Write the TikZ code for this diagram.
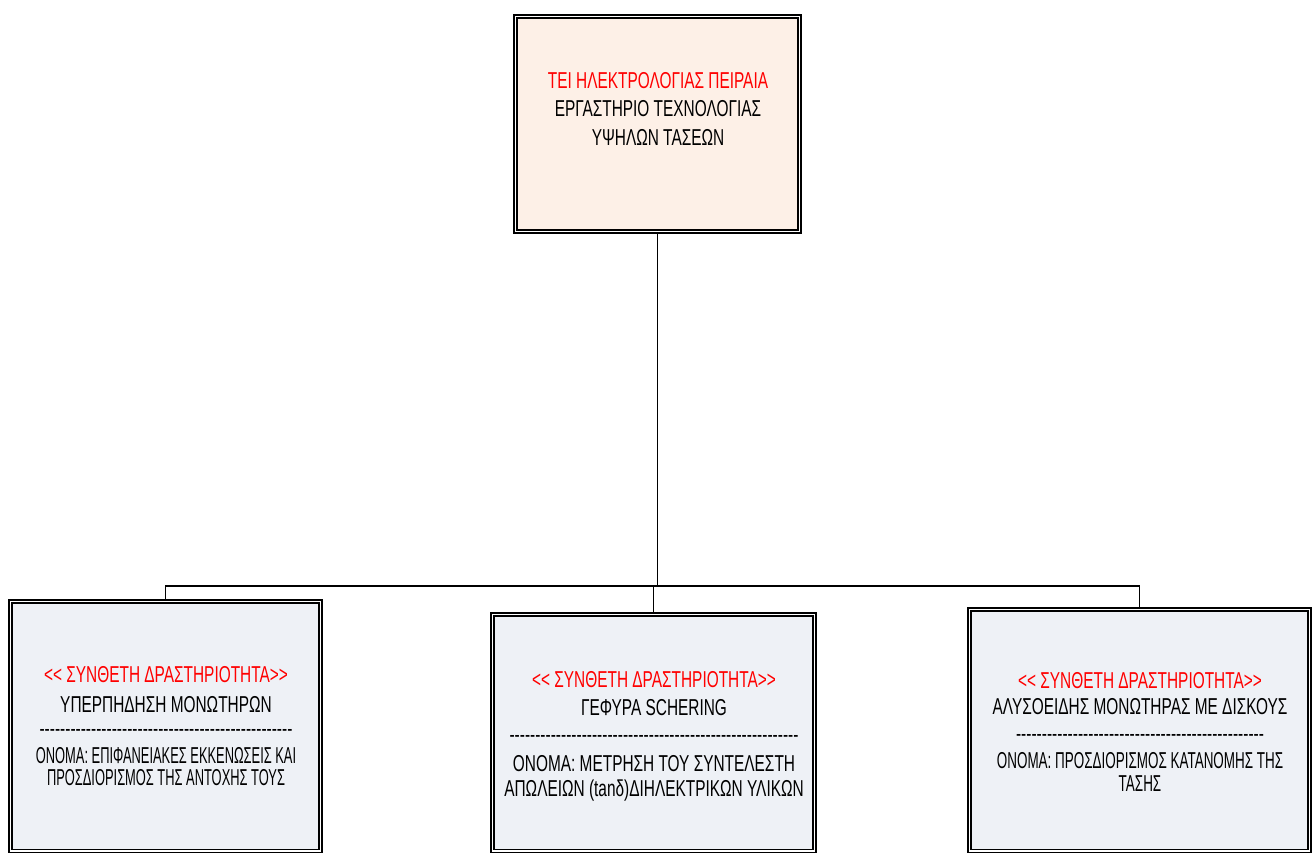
\documentclass[tikz,border=0pt]{standalone}
\usepackage{fontspec}
\newfontfamily\teifont{Liberation Sans}[FakeStretch=0.67]
\newfontfamily\teinarrow{Liberation Sans}[FakeStretch=0.56]
\newfontfamily\teisemi{Liberation Sans}[FakeStretch=0.585]
\usepackage{xcolor}
\usetikzlibrary{positioning}
\definecolor{teipeach}{HTML}{FDF0E7}
\definecolor{teigray}{HTML}{EEF1F6}
\definecolor{teired}{HTML}{FF0000}
\newcommand{\dashsep}[1]{\hbox to #1{\xleaders\hbox{-}\hfill}}

\begin{document}
\begin{tikzpicture}[
    x=1pt, y=-1pt,
    box/.style={draw, double, line width=1.6pt, double distance=1.4pt, inner sep=0pt},
    rootbox/.style={box, fill=teipeach},
    actbox/.style={box, fill=teigray},
    caption/.style={align=center, anchor=north, inner sep=0pt, font=\teifont\fontsize{23}{27}\selectfont},
    link/.style={line width=1.8pt},
]
\useasboundingbox (0,0) rectangle (1315,852);

% Root
\node[rootbox, minimum width=284.4pt, minimum height=215.4pt] (root) at (657.5,124) {};
\node[caption] (roottxt) at (658,72.5) {\textcolor{teired}{ΤΕΙ ΗΛΕΚΤΡΟΛΟΓΙΑΣ ΠΕΙΡΑΙΑ}\\[1pt]ΕΡΓΑΣΤΗΡΙΟ ΤΕΧΝΟΛΟΓΙΑΣ\\[2pt]ΥΨΗΛΩΝ ΤΑΣΕΩΝ};

% Activities
\node[actbox, minimum width=310.4pt, minimum height=249.7pt] (surge) at (165.5,726.2) {};
\node[actbox, minimum width=322.4pt, minimum height=236.7pt] (bridge) at (653.5,732.6) {};
\node[actbox, minimum width=340.4pt, minimum height=241.7pt] (chain) at (1139.5,730.2) {};

\node[caption] (surgetxt) at (166,666.5) {\textcolor{teired}{<< ΣΥΝΘΕΤΗ ΔΡΑΣΤΗΡΙΟΤΗΤΑ>>}\\[2.3pt]ΥΠΕΡΠΗΔΗΣΗ ΜΟΝΩΤΗΡΩΝ\\[-2.2pt]\dashsep{253pt}\\[-0.8pt]{\teinarrow ΟΝΟΜΑ: ΕΠΙΦΑΝΕΙΑΚΕΣ ΕΚΚΕΝΩΣΕΙΣ ΚΑΙ}\\[-4.5pt]{\teinarrow ΠΡΟΣΔΙΟΡΙΣΜΟΣ ΤΗΣ ΑΝΤΟΧΗΣ ΤΟΥΣ}};
\node[caption] (bridgetxt) at (654,671.7) {\textcolor{teired}{<< ΣΥΝΘΕΤΗ ΔΡΑΣΤΗΡΙΟΤΗΤΑ>>}\\[0.3pt]ΓΕΦΥΡΑ SCHERING\\[-0.2pt]\dashsep{289pt}\\[2.4pt]ΟΝΟΜΑ: ΜΕΤΡΗΣΗ ΤΟΥ ΣΥΝΤΕΛΕΣΤΗ\\[-1.5pt]ΑΠΩΛΕΙΩΝ (tanδ)ΔΙΗΛΕΚΤΡΙΚΩΝ ΥΛΙΚΩΝ};
\node[caption] (chaintxt) at (1140,672.3) {\textcolor{teired}{<< ΣΥΝΘΕΤΗ ΔΡΑΣΤΗΡΙΟΤΗΤΑ>>}\\[-0.8pt]ΑΛΥΣΟΕΙΔΗΣ ΜΟΝΩΤΗΡΑΣ ΜΕ ΔΙΣΚΟΥΣ\\[-0.7pt]\dashsep{248pt}\\[0.2pt]{\teisemi ΟΝΟΜΑ: ΠΡΟΣΔΙΟΡΙΣΜΟΣ ΚΑΤΑΝΟΜΗΣ ΤΗΣ}\\[-4pt]{\teisemi ΤΑΣΗΣ}};

% Links
\coordinate (bus) at (657.5,586);
\draw[link] (root.south) -- (bus);
\draw[link] (surge.north) |- (bus) -| (chain.north);
\draw[link] (bridge.north) -- (bridge.north |- bus);

\end{tikzpicture}
\end{document}
